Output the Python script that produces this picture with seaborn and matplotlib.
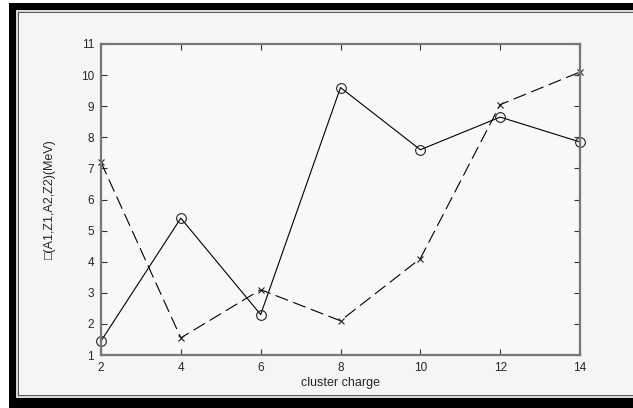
import matplotlib
matplotlib.use("Agg")
import matplotlib.pyplot as plt
import matplotlib.patches as mpatches
import seaborn as sns
import pandas as pd

charge = [2, 4, 6, 8, 10, 12, 14]
series_circle = [1.45, 5.4, 2.3, 9.6, 7.6, 8.65, 7.85]
series_cross = [7.2, 1.55, 3.1, 2.1, 4.1, 9.05, 10.1]
xticks = [2, 4, 6, 8, 10, 12, 14]
yticks = [1, 2, 3, 4, 5, 6, 7, 8, 9, 10, 11]

sns.set_style("white")
plt.rcParams['font.family'] = ['Liberation Sans', 'DejaVu Sans']

W, H = 633, 408
fig = plt.figure(figsize=(W / 100, H / 100), dpi=100)
fig.patch.set_facecolor('white')

def px_rect(x0, y0, x1, y1, **kw):
    r = mpatches.Rectangle((x0 / W, 1 - y1 / H), (x1 - x0) / W, (y1 - y0) / H,
                           transform=fig.transFigure, zorder=-10, **kw)
    fig.patches.append(r)

# outer black frame
px_rect(9, 3, W + 5, H + 5, facecolor='black', edgecolor='none')
# dotted light line
px_rect(16, 10, W + 5, 398, facecolor='#d8d8d8', edgecolor='none')
px_rect(18, 12, W + 5, 396, facecolor='#555555', edgecolor='none')
# inner panel
px_rect(19, 13, W + 5, 395, facecolor='#f5f5f5', edgecolor='none')

ax = fig.add_axes([101 / W, 1 - 355 / H, (580 - 101) / W, (355 - 44) / H])
ax.set_zorder(1)
ax.set_facecolor('#f8f8f8')

df = pd.DataFrame({'charge': charge, 'circle': series_circle, 'cross': series_cross})
sns.lineplot(data=df, x='charge', y='circle', ax=ax, color='black', lw=0.8,
             marker='o', markersize=7, markerfacecolor='none',
             markeredgecolor='#222222', markeredgewidth=0.8, clip_on=False)
sns.lineplot(data=df, x='charge', y='cross', ax=ax, color='black', lw=0.8,
             dashes=(12, 5), marker='x', markersize=4.5,
             markeredgecolor='#222222', markeredgewidth=0.8, clip_on=False)

ax.set_xlim(2, 14)
ax.set_ylim(1, 11)
ax.set_xticks(xticks)
ax.set_yticks(yticks)
ax.tick_params(direction='in', length=4, width=0.8, color='#333333',
               labelsize=8.5, top=True, right=True, bottom=True, left=True,
               pad=5)
for s in ax.spines.values():
    s.set_color('#777777')
    s.set_linewidth(1.6)
    s.set_visible(True)

ax.set_xlabel('cluster charge', fontsize=9, labelpad=2)
ax.set_ylabel('□(A1,Z1,A2,Z2)(MeV)', fontsize=9, labelpad=18)

fig.savefig('out.png', dpi=100, facecolor=fig.get_facecolor())
